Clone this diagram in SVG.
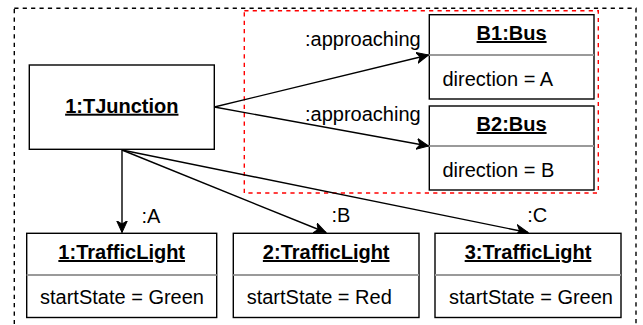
<svg xmlns="http://www.w3.org/2000/svg" width="643" height="325" viewBox="0 0 643 325">
<defs>
<style>
.bg{fill:#fff}
.frame{fill:none;stroke:#000;stroke-width:1.4;stroke-dasharray:4.2 4.2}
.group{fill:none;stroke:#ff0000;stroke-width:1.4;stroke-dasharray:4.2 4.2}
.box{fill:#fff;stroke:#000;stroke-width:1.4}
.sep{stroke:#9a9a9a;stroke-width:2}
.title{font-family:"Liberation Sans",Arial,sans-serif;font-size:20px;font-weight:bold;text-decoration:underline;text-anchor:middle;fill:#000}
.attr{font-family:"Liberation Sans",Arial,sans-serif;font-size:20px;fill:#000}
.lbl{font-family:"Liberation Sans",Arial,sans-serif;font-size:20px;fill:#000}
.edge{fill:none;stroke:#000;stroke-width:1.4;marker-end:url(#arr)}
</style>
<marker id="arr" markerUnits="userSpaceOnUse" markerWidth="14" markerHeight="12" viewBox="-12 -6 14 12" refX="0" refY="0" orient="auto">
<path d="M0,0 L-12,-5.5 L-8.5,0 L-12,5.5 Z" fill="#000" stroke="#000" stroke-width="1"/>
</marker>
</defs>
<rect class="bg" x="0" y="0" width="643" height="325"/>
<rect class="frame" x="14.3" y="8.3" width="621.7" height="330"/>
<rect class="group" x="244.3" y="10.7" width="354" height="182.3"/>

<g id="connectors">
<line class="edge" x1="122" y1="150" x2="122" y2="232.5"/>
<line class="edge" x1="122" y1="150" x2="326" y2="232.5"/>
<line class="edge" x1="122" y1="150" x2="528" y2="232.5"/>
<line class="edge" x1="214.3" y1="107" x2="428.5" y2="55"/>
<line class="edge" x1="214.3" y1="107" x2="428.5" y2="146"/>
<text class="lbl" x="420.7" y="46" text-anchor="end">:approaching</text>
<text class="lbl" x="420.7" y="121" text-anchor="end">:approaching</text>
<text class="lbl" x="141.5" y="223">:A</text>
<text class="lbl" x="331.5" y="222">:B</text>
<text class="lbl" x="527.3" y="222">:C</text>
</g>

<g id="tjunction">
<rect class="box" x="29.3" y="65" width="185" height="84.3"/>
<text class="title" x="121.8" y="112.7">1:TJunction</text>
</g>

<g id="bus1">
<rect class="box" x="429.3" y="14.7" width="164.7" height="84.3"/>
<line class="sep" x1="429.3" y1="55" x2="594" y2="55"/>
<text class="title" x="511.6" y="40">B1:Bus</text>
<text class="attr" x="442.5" y="86">direction = A</text>
</g>

<g id="bus2">
<rect class="box" x="429.3" y="106" width="164.7" height="84"/>
<line class="sep" x1="429.3" y1="146" x2="594" y2="146"/>
<text class="title" x="511.6" y="131">B2:Bus</text>
<text class="attr" x="442.5" y="177">direction = B</text>
</g>

<g id="light1">
<rect class="box" x="26.7" y="233.3" width="190" height="84.2"/>
<line class="sep" x1="26.7" y1="275" x2="216.7" y2="275"/>
<text class="title" x="121.7" y="259">1:TrafficLight</text>
<text class="attr" x="40" y="303.5">startState = Green</text>
</g>

<g id="light2">
<rect class="box" x="233.3" y="233.3" width="185.7" height="84.2"/>
<line class="sep" x1="233.3" y1="275" x2="419" y2="275"/>
<text class="title" x="326.2" y="259">2:TrafficLight</text>
<text class="attr" x="246.7" y="303.5">startState = Red</text>
</g>

<g id="light3">
<rect class="box" x="435" y="233.3" width="186" height="84.2"/>
<line class="sep" x1="435" y1="275" x2="621" y2="275"/>
<text class="title" x="528" y="259">3:TrafficLight</text>
<text class="attr" x="449" y="303.5">startState = Green</text>
</g>
</svg>
